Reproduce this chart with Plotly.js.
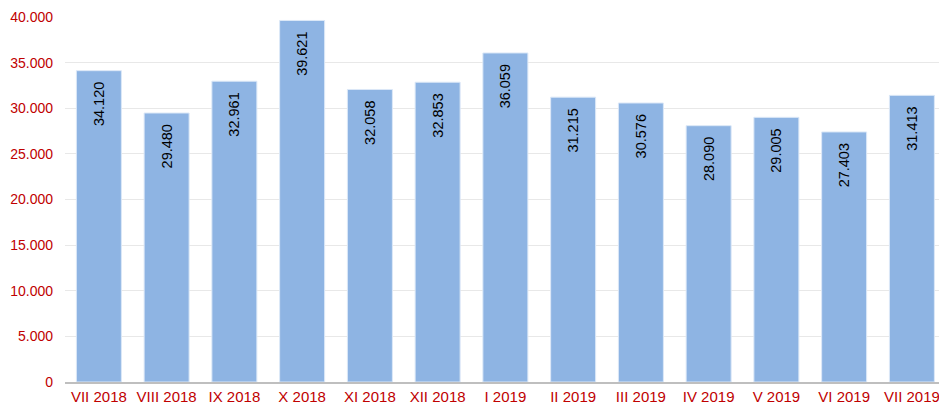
<!DOCTYPE html>
<html><head><meta charset="utf-8">
<script src="https://cdn.plot.ly/plotly-3.0.1.min.js"></script>
<style>html,body{margin:0;padding:0;background:#fff;}#chart{width:939px;height:412px;}</style>
</head><body><div id="chart"></div>
<script>
const categories = ["VII 2018","VIII 2018","IX 2018","X 2018","XI 2018","XII 2018","I 2019","II 2019","III 2019","IV 2019","V 2019","VI 2019","VII 2019"];
const values = [34120, 29480, 32961, 39621, 32058, 32853, 36059, 31215, 30576, 28090, 29005, 27403, 31413];
const yTicks = [0, 5000, 10000, 15000, 20000, 25000, 30000, 35000, 40000];

const FONT = '"Liberation Sans", Arial, sans-serif';
const trace = {
  type: 'bar',
  x: categories.map((c, i) => i),
  y: values,
  marker: {color: '#8EB4E3', line: {color: '#DCE8F7', width: 1}},
  texttemplate: '%{y:,d}\u00A0\u00A0',
  textposition: 'inside',
  insidetextanchor: 'end',
  textangle: -90,
  textfont: {family: FONT, size: 14.5, color: '#000'},
  hoverinfo: 'none'
};
const layout = {
  width: 939, height: 412,
  margin: {l: 65, r: 0, t: 17, b: 30},
  separators: ',.',
  bargap: 0.336,
  paper_bgcolor: '#fff', plot_bgcolor: '#fff',
  showlegend: false,
  font: {family: FONT, size: 14, color: '#C00000'},
  xaxis: {
    range: [-0.5, 12.4],
    tickmode: 'array',
    tickvals: categories.map((c, i) => i),
    ticktext: categories,
    showgrid: false, zeroline: false,
    showline: true, linecolor: '#BFBFBF', linewidth: 2,
    ticks: '',
    ticklabeloverflow: 'allow',
    tickfont: {family: FONT, size: 15, color: '#C00000'},
    fixedrange: true
  },
  yaxis: {
    range: [0, 40000],
    tickmode: 'array',
    tickvals: yTicks,
    tickformat: ',d',
    showgrid: true, gridcolor: '#E8E8E8', gridwidth: 1,
    zeroline: false, showline: false, ticks: '',
    ticklabelstandoff: 11,
    tickfont: {family: FONT, size: 14, color: '#C00000'},
    fixedrange: true
  }
};
Plotly.newPlot('chart', [trace], layout, {displayModeBar: false, staticPlot: true});
</script></body></html>
